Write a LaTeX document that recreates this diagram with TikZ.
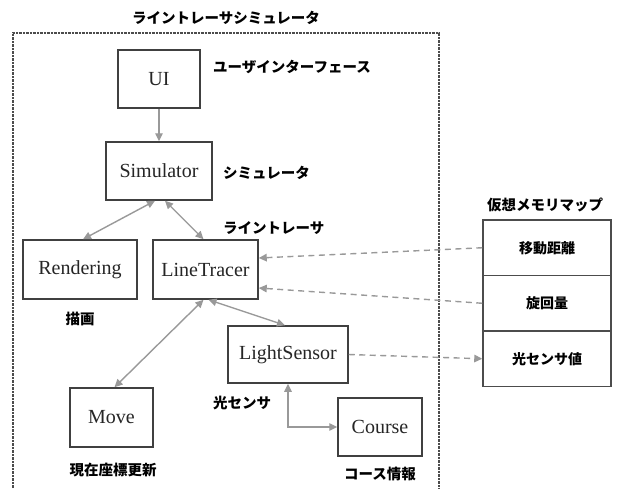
\documentclass[tikz,border=0pt]{standalone}
\usepackage{fontspec}
\setmainfont{Liberation Serif}
\newfontfamily\jp{Noto Sans CJK JP}
\usetikzlibrary{arrows.meta,calc}
\begin{document}
\begin{tikzpicture}[x=1pt,y=-1pt,
  box/.style={draw=black!75,line width=1.5pt,fill=white,inner sep=0pt,text=black!85,font=\fontsize{20}{20}\selectfont},
  mem/.style={draw=black!70,line width=1.5pt,inner sep=0pt,minimum width=128pt,minimum height=55.5pt,font=\jp\bfseries\fontsize{14}{14}\selectfont},
  lab/.style={inner sep=0pt,font=\jp\bfseries\fontsize{14.5}{14.5}\selectfont},
  conn/.style={draw=black!40,line width=1.4pt},
  tip/.style={-{Triangle[length=8pt,width=7.5pt]}},
  dtip/.style={{Triangle[length=8pt,width=7.5pt]}-{Triangle[length=8pt,width=7.5pt]}},
  dashline/.style={dash pattern=on 6pt off 4.5pt}
]
\useasboundingbox (0,0) rectangle (617,488);
% frame
\draw[black!70,line width=1.1pt,dash pattern=on 0.7pt off 0.7pt] (13,488) -- (13,33) -- (439,33) -- (439,488);
\node[lab] (title) at (226,18) {ライントレーサシミュレータ};

% boxes
\node[box,minimum width=82pt,minimum height=58pt] (ui) at (159,79) {UI};
\node[box,minimum width=106pt,minimum height=58pt] (sim) at (159,171) {Simulator};
\node[box,minimum width=114pt,minimum height=59pt] (rend) at (80,269.5) {Rendering};
\node[box,minimum width=105pt,minimum height=59pt] (lt) at (205.5,269.5) {LineTracer};
\node[box,minimum width=120pt,minimum height=57pt] (ls) at (288,354.5) {LightSensor};
\node[box,minimum width=83pt,minimum height=59pt] (move) at (111.5,417.5) {Move};
\node[box,minimum width=84pt,minimum height=58pt] (course) at (380,427) {Course};

% memory map
\node[mem] (m1) at (547,247.75) {移動距離};
\node[mem] (m2) at (547,303.25) {旋回量};
\node[mem] (m3) at (547,358.75) {光センサ値};
\node[lab] (mtitle) at (545,205) {仮想メモリマップ};

% labels
\node[lab,anchor=west] (lui) at (213,67) {ユーザインターフェース};
\node[lab,anchor=west] (lsim) at (223,173) {シミュレータ};
\node[lab,anchor=west] (llt) at (223,228) {ライントレーサ};
\node[lab] (lrend) at (80,319) {描画};
\node[lab,anchor=west] (lls) at (213,403) {光センサ};
\node[lab] (lmove) at (113,470) {現在座標更新};
\node[lab] (lcourse) at (380,474) {コース情報};

% connectors
\draw[conn,tip] (ui) -- (sim);
\draw[conn,dtip] ([xshift=-4pt]sim.south) -- ([xshift=3pt]rend.north);
\draw[conn,dtip] ([xshift=6pt]sim.south) -- ([xshift=-2pt]lt.north);
\draw[conn,dtip] ([xshift=3pt]lt.south) -- ([xshift=-3pt]ls.north);
\draw[conn,dtip] ([xshift=-2pt]lt.south) -- ([xshift=3pt]move.north);
\draw[conn,dtip] (ls.south) |- (course.west);
\draw[conn,dashline,tip] (m1.west) -- ([yshift=11.5pt]lt.east);
\draw[conn,dashline,tip] (m2.west) -- ([yshift=-18.5pt]lt.east);
\draw[conn,dashline,tip] (ls.east) -- (m3.west);
\end{tikzpicture}
\end{document}
